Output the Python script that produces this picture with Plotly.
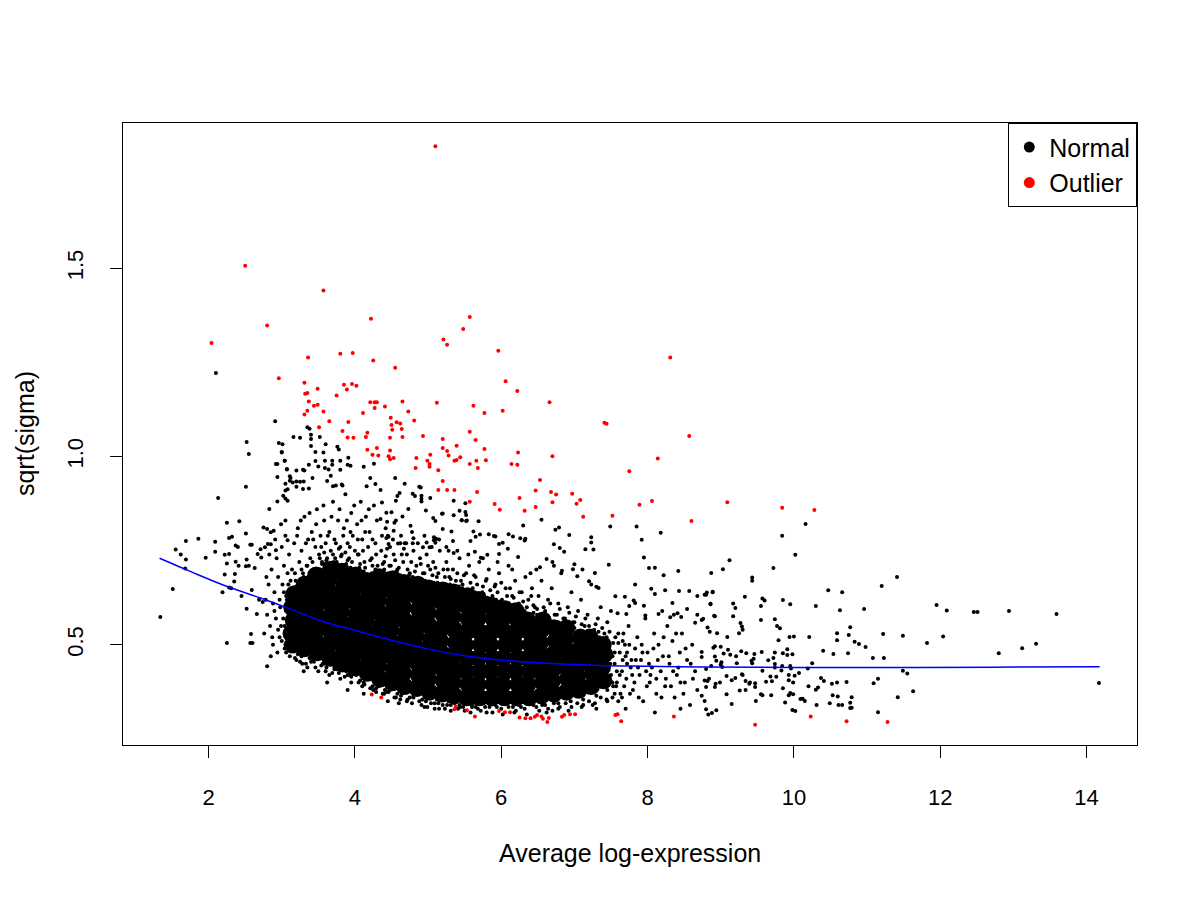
import plotly.graph_objects as go

# red outliers
outlier_x = [5.10, 2.50, 3.57, 2.80, 2.04, 4.22, 5.57, 5.48, 5.21, 5.26, 5.96, 3.36, 3.80, 3.97, 4.25, 4.55,
             6.06, 2.96, 3.31, 3.49, 3.32, 3.35, 3.85, 3.96, 4.02, 3.89, 3.75, 3.37, 3.49, 3.44, 3.35, 3.31,
             3.57, 4.21, 4.27, 4.30, 4.27, 4.41, 4.65, 4.11, 4.73, 5.12, 5.62, 5.77, 6.02, 3.65, 3.51, 3.91,
             3.83, 3.90, 3.98, 4.15, 4.17, 4.49, 4.50, 4.57, 4.62, 4.51, 4.64, 4.81, 4.48, 4.65, 4.93, 5.57,
             5.65, 5.20, 5.20, 5.26, 5.39, 5.77, 4.17, 4.30, 4.24, 4.32, 4.48, 4.46, 4.48, 4.53, 4.84, 5.03,
             4.99, 5.02, 5.02, 4.83, 5.14, 5.28, 5.36, 5.39, 5.44, 5.57, 5.66, 5.68, 5.79, 5.20, 5.14, 5.26,
             5.36, 8.31, 6.22, 6.66, 7.41, 7.44, 8.57, 6.70, 6.23, 6.14, 6.22, 8.14, 7.75, 6.53, 6.47, 6.68,
             6.75, 6.97, 7.08, 7.03, 6.70, 6.25, 5.67, 5.57, 5.91, 5.98, 6.32, 6.47, 7.12, 7.52, 7.89, 8.06,
             8.60, 9.09, 9.84, 10.28,
             9.47, 10.23, 10.72, 11.28, 4.23, 4.36, 5.36, 5.38, 5.53, 5.64, 5.97, 6.05, 6.12, 6.25, 6.33,
             6.40, 6.46, 6.49, 6.55, 6.57, 6.63, 6.65, 6.83, 6.86, 6.94, 7.01, 7.56, 7.59, 7.64, 8.36]
outlier_y = [1.824, 1.507, 1.441, 1.348, 1.302, 1.366, 1.371, 1.339, 1.311, 1.297, 1.281, 1.263, 1.273, 1.275,
             1.255, 1.236, 1.200, 1.208, 1.196, 1.180, 1.167, 1.169, 1.191, 1.193, 1.188, 1.178, 1.162, 1.146,
             1.138, 1.135, 1.122, 1.112, 1.120, 1.144, 1.144, 1.144, 1.129, 1.133, 1.146, 1.116, 1.120, 1.143,
             1.135, 1.116, 1.122, 1.094, 1.078, 1.092, 1.068, 1.051, 1.050, 1.052, 1.063, 1.103, 1.084, 1.091,
             1.088, 1.071, 1.073, 1.096, 1.050, 1.052, 1.055, 1.066, 1.044, 1.047, 1.023, 1.015, 1.029, 1.020,
             1.018, 1.023, 1.005, 1.003, 1.016, 1.001, 0.993, 0.996, 0.996, 1.005, 0.989, 0.980, 0.973, 0.970,
             0.964, 1.003, 0.989, 0.991, 0.998, 0.980, 0.989, 0.970, 0.990, 0.935, 0.911, 0.911, 0.911, 1.263,
             1.174, 1.144, 1.090, 1.087, 1.055, 1.001, 1.011, 0.980, 0.978, 0.995, 0.961, 0.938, 0.910, 0.906,
             0.899, 0.901, 0.885, 0.875, 0.879, 0.890, 0.906, 0.880, 0.874, 0.859, 0.856, 0.866, 0.840, 0.843,
             0.872, 0.882, 0.829, 0.879, 0.864, 0.858,
             0.288, 0.310, 0.297, 0.295, 0.368, 0.360, 0.329, 0.336, 0.326, 0.310, 0.324, 0.321, 0.321, 0.307,
             0.305, 0.305, 0.309, 0.314, 0.310, 0.304, 0.295, 0.306, 0.309, 0.314, 0.316, 0.316, 0.314, 0.316,
             0.297, 0.310]

# solid centre of the black cloud (drawn with big markers)
core_x = [3.15, 3.13, 3.16, 3.14, 3.17,
          3.31, 3.33, 3.30, 3.34, 3.32, 3.31,
          3.49, 3.47, 3.50, 3.48, 3.51, 3.49, 3.47,
          3.66, 3.64, 3.67, 3.65, 3.68, 3.66, 3.64, 3.67,
          3.83, 3.85, 3.82, 3.84, 3.81, 3.83, 3.85, 3.82,
          4.00, 3.98, 4.01, 3.99, 4.02, 4.00, 3.98, 4.01,
          4.17, 4.19, 4.16, 4.18, 4.15, 4.17, 4.19, 4.16,
          4.34, 4.32, 4.35, 4.33, 4.36, 4.34, 4.32, 4.35, 4.33,
          4.51, 4.53, 4.50, 4.52, 4.49, 4.51, 4.53, 4.50, 4.52,
          4.68, 4.66, 4.69, 4.67, 4.70, 4.68, 4.66, 4.69, 4.67,
          4.85, 4.87, 4.84, 4.86, 4.83, 4.85, 4.87, 4.84, 4.86,
          5.02, 5.00, 5.03, 5.01, 5.04, 5.02, 5.00, 5.03, 5.01,
          5.19, 5.21, 5.18, 5.20, 5.17, 5.19, 5.21, 5.18, 5.20,
          5.36, 5.34, 5.37, 5.35, 5.38, 5.36, 5.34, 5.37, 5.35,
          5.53, 5.55, 5.52, 5.54, 5.51, 5.53, 5.55, 5.52, 5.54,
          5.70, 5.68, 5.71, 5.69, 5.72, 5.70, 5.68, 5.71, 5.69,
          5.87, 5.89, 5.86, 5.88, 5.85, 5.87, 5.89, 5.86,
          6.04, 6.02, 6.05, 6.03, 6.06, 6.04, 6.02, 6.05,
          6.21, 6.23, 6.20, 6.22, 6.19, 6.21, 6.23, 6.20,
          6.38, 6.36, 6.39, 6.37, 6.40, 6.38, 6.36,
          6.55, 6.57, 6.54, 6.56, 6.53, 6.55, 6.57,
          6.72, 6.70, 6.73, 6.71, 6.74, 6.72,
          6.89, 6.91, 6.88, 6.90, 6.87, 6.89,
          7.06, 7.04, 7.07, 7.05, 7.08,
          7.23, 7.25, 7.22, 7.24, 7.21,
          7.40, 7.38, 7.41, 7.39]
core_y = [0.50, 0.53, 0.565, 0.60, 0.635,
          0.49, 0.52, 0.555, 0.59, 0.625, 0.66,
          0.48, 0.51, 0.545, 0.58, 0.615, 0.65, 0.685,
          0.465, 0.50, 0.535, 0.57, 0.605, 0.64, 0.675, 0.70,
          0.45, 0.485, 0.52, 0.555, 0.59, 0.625, 0.66, 0.695,
          0.44, 0.475, 0.51, 0.545, 0.58, 0.615, 0.65, 0.685,
          0.425, 0.46, 0.495, 0.53, 0.565, 0.60, 0.635, 0.67,
          0.41, 0.445, 0.48, 0.515, 0.55, 0.585, 0.62, 0.655, 0.68,
          0.40, 0.435, 0.47, 0.505, 0.54, 0.575, 0.61, 0.645, 0.675,
          0.39, 0.425, 0.46, 0.495, 0.53, 0.565, 0.60, 0.635, 0.665,
          0.385, 0.42, 0.455, 0.49, 0.525, 0.56, 0.595, 0.63, 0.66,
          0.375, 0.41, 0.445, 0.48, 0.515, 0.55, 0.585, 0.62, 0.65,
          0.37, 0.405, 0.44, 0.475, 0.51, 0.545, 0.58, 0.615, 0.645,
          0.365, 0.40, 0.435, 0.47, 0.505, 0.54, 0.575, 0.61, 0.64,
          0.36, 0.395, 0.43, 0.465, 0.50, 0.535, 0.57, 0.605, 0.63,
          0.36, 0.395, 0.43, 0.465, 0.50, 0.535, 0.57, 0.60, 0.62,
          0.36, 0.395, 0.43, 0.465, 0.50, 0.535, 0.57, 0.605,
          0.36, 0.395, 0.43, 0.465, 0.50, 0.535, 0.57, 0.595,
          0.36, 0.395, 0.43, 0.465, 0.50, 0.535, 0.565, 0.59,
          0.36, 0.395, 0.43, 0.465, 0.50, 0.535, 0.565,
          0.365, 0.40, 0.435, 0.47, 0.505, 0.54, 0.565,
          0.37, 0.405, 0.44, 0.475, 0.51, 0.545,
          0.375, 0.41, 0.445, 0.48, 0.515, 0.545,
          0.38, 0.415, 0.45, 0.485, 0.52,
          0.39, 0.425, 0.46, 0.495, 0.52,
          0.405, 0.44, 0.475, 0.50]

# points sitting on the rim of the solid part
rim_x = [3.10, 3.20, 3.26, 3.36, 3.42, 3.53, 3.59, 3.71, 3.76, 3.88, 3.94, 4.06, 4.12, 4.23, 4.28, 4.40,
         4.45, 4.57, 4.62, 4.74, 4.79, 4.91, 4.96, 5.08, 5.13, 5.25, 5.30, 5.42, 5.47, 5.59, 5.64, 5.76,
         5.81, 5.93, 5.98, 6.10, 6.15, 6.27, 6.32, 6.44, 6.49, 6.61, 6.66, 6.78, 6.83, 6.95, 7.00, 7.12,
         7.17, 7.29, 7.34, 7.46,
         3.10, 3.22, 3.27, 3.38, 3.44, 3.56, 3.61, 3.72, 3.78, 3.90, 3.95, 4.07, 4.12, 4.24, 4.29, 4.41,
         4.46, 4.58, 4.63, 4.75, 4.80, 4.92, 4.97, 5.09, 5.14, 5.26, 5.31, 5.43, 5.48, 5.60, 5.65, 5.78,
         5.94, 6.10, 6.27, 6.44, 6.60, 6.78, 6.95, 7.12, 7.30, 7.45,
         3.05, 3.04, 3.06, 3.07]
rim_y = [0.645, 0.655, 0.675, 0.68, 0.695, 0.70, 0.715, 0.72, 0.715, 0.715, 0.705, 0.705, 0.695, 0.69, 0.70,
         0.70, 0.69, 0.695, 0.685, 0.685, 0.68, 0.675, 0.67, 0.665, 0.665, 0.66, 0.66, 0.655, 0.65, 0.645, 0.64,
         0.635, 0.625, 0.62, 0.615, 0.61, 0.605, 0.60, 0.59, 0.585, 0.58, 0.575, 0.565, 0.56, 0.555, 0.55,
         0.545, 0.535, 0.535, 0.525, 0.52, 0.50,
         0.485, 0.475, 0.47, 0.465, 0.455, 0.45, 0.44, 0.435, 0.425, 0.42, 0.415, 0.405, 0.40, 0.39, 0.385,
         0.38, 0.375, 0.37, 0.365, 0.36, 0.36, 0.355, 0.35, 0.345, 0.345, 0.34, 0.34, 0.34, 0.335, 0.335,
         0.335, 0.335, 0.335, 0.335, 0.335, 0.34, 0.34, 0.345, 0.35, 0.355, 0.365, 0.38,
         0.50, 0.55, 0.59, 0.62]

# band hugging the centre (dense speckle round the solid part)
halo_x = [3.12, 3.18, 3.22, 3.27, 3.30, 3.35, 3.38, 3.42, 3.45, 3.52, 3.55, 3.58, 3.61, 3.70, 3.73, 3.78,
          3.81, 3.87, 3.90, 3.93, 3.96, 4.04, 4.07, 4.11, 4.14, 4.21, 4.24, 4.29, 4.38, 4.42, 4.47, 4.55,
          4.60, 4.64, 4.72, 4.77, 4.82, 4.90, 4.95, 5.00, 5.06, 5.10, 5.14, 5.23, 5.27, 5.31, 5.40, 5.45,
          5.49, 5.58, 5.63, 5.67, 5.75, 5.80, 5.85, 5.91, 5.95, 6.00, 6.08, 6.12, 6.17, 6.25, 6.30, 6.35,
          6.41, 6.44, 6.49, 6.58, 6.62, 6.67, 6.76, 6.80, 6.85, 6.93, 6.98, 7.02, 7.10, 7.15, 7.20, 7.29,
          7.33, 7.38, 7.44, 7.48, 7.53, 7.56,
          3.18, 3.25, 3.33, 3.40, 3.46, 3.54, 3.60, 3.69, 3.75, 3.86, 3.92, 4.05, 4.13, 4.21, 4.29, 4.38,
          4.44, 4.54, 4.62, 4.71, 4.78, 4.91, 4.99, 5.09, 5.23, 5.31, 5.41, 5.58, 5.72, 5.88, 6.02, 6.18,
          6.35, 6.52, 6.62, 6.78, 6.92, 7.10, 7.25, 7.45, 7.55, 7.65,
          2.88, 2.95, 3.00, 3.02, 3.05, 3.08, 3.03, 2.97, 3.09, 2.90, 2.85, 3.06,
          7.50, 7.55, 7.58, 7.62, 7.65, 7.68, 7.72, 7.75, 7.79, 7.84, 7.60, 7.70, 7.48, 7.53, 7.66, 7.76,
          7.87, 7.93, 7.99, 8.04, 8.14, 8.25, 8.35, 8.45,
          3.21, 3.26, 3.33, 3.38, 3.43, 3.47, 3.54, 3.57, 3.63, 3.68, 3.74, 3.79, 3.84, 3.89, 3.94, 3.99,
          4.04, 4.09, 4.14, 4.19, 4.24, 4.30, 4.37, 4.42, 4.48, 4.52, 4.63, 4.70, 4.78, 4.86, 4.95, 5.05,
          5.15, 5.25, 5.40, 5.55, 5.75, 5.95, 6.15, 6.40]
halo_y = [0.67, 0.69, 0.665, 0.70, 0.68, 0.71, 0.69, 0.72, 0.70, 0.73, 0.715, 0.745, 0.725, 0.74, 0.73, 0.755,
          0.735, 0.745, 0.725, 0.76, 0.72, 0.74, 0.715, 0.75, 0.705, 0.725, 0.71, 0.74, 0.715, 0.735, 0.71, 0.725,
          0.705, 0.74, 0.70, 0.72, 0.695, 0.715, 0.69, 0.71, 0.685, 0.705, 0.69, 0.68, 0.70, 0.675, 0.69, 0.67,
          0.685, 0.665, 0.685, 0.66, 0.655, 0.675, 0.645, 0.655, 0.64, 0.665, 0.63, 0.65, 0.625, 0.64, 0.615, 0.60,
          0.63, 0.605, 0.595, 0.60, 0.58, 0.61, 0.58, 0.595, 0.57, 0.585, 0.56, 0.575, 0.555, 0.57, 0.55, 0.555,
          0.535, 0.545, 0.52, 0.535, 0.505, 0.52,
          0.465, 0.455, 0.45, 0.455, 0.44, 0.445, 0.43, 0.425, 0.435, 0.415, 0.42, 0.40, 0.395, 0.385, 0.375, 0.37,
          0.375, 0.36, 0.355, 0.35, 0.345, 0.34, 0.335, 0.33, 0.33, 0.325, 0.33, 0.32, 0.325, 0.32, 0.315, 0.32,
          0.315, 0.325, 0.32, 0.33, 0.325, 0.335, 0.34, 0.35, 0.37, 0.36,
          0.50, 0.54, 0.51, 0.57, 0.53, 0.60, 0.64, 0.62, 0.66, 0.59, 0.47, 0.48,
          0.42, 0.45, 0.40, 0.48, 0.43, 0.39, 0.45, 0.50, 0.42, 0.46, 0.505, 0.47, 0.48, 0.39, 0.51, 0.37,
          0.44, 0.48, 0.39, 0.42, 0.46, 0.41, 0.43, 0.40,
          0.79, 0.83, 0.77, 0.85, 0.78, 0.82, 0.76, 0.87, 0.79, 0.84, 0.77, 0.86, 0.79, 0.83, 0.80, 0.87,
          0.78, 0.83, 0.80, 0.86, 0.78, 0.83, 0.79, 0.81, 0.76, 0.78, 0.79, 0.77, 0.80, 0.77, 0.79, 0.76,
          0.78, 0.76, 0.75, 0.74, 0.73, 0.72, 0.70, 0.69]

# edge of the cloud, medium density
edge_x = [2.78, 2.80, 2.82, 2.84, 2.86, 2.88, 2.90, 2.92, 2.93, 2.95, 2.97, 2.98, 3.00, 3.01, 3.03, 3.04,
          3.06, 3.08, 3.10, 3.11, 2.76, 2.79, 2.83, 2.87, 2.91, 2.94, 2.99, 3.05,
          3.14, 3.17, 3.19, 3.22, 3.24, 3.27, 3.29, 3.31, 3.34, 3.36, 3.39, 3.41, 3.44, 3.46, 3.48, 3.51,
          3.53, 3.55, 3.58, 3.60,
          3.62, 3.65, 3.67, 3.70, 3.72, 3.75, 3.77, 3.80, 3.82, 3.85, 3.87, 3.90, 3.92, 3.95, 3.97, 4.00,
          4.03, 4.05, 4.08, 4.10, 4.13, 4.15, 4.18, 4.20, 4.23, 4.26, 4.28, 4.31,
          4.36, 4.40, 4.45, 4.49, 4.53, 4.58, 4.62, 4.66, 4.71, 4.75, 4.80, 4.84, 4.89, 4.93, 4.98, 5.03,
          5.07, 5.12, 5.16, 5.21,
          5.25, 5.29, 5.34, 5.38, 5.43, 5.47, 5.52, 5.56, 5.61, 5.65, 5.70, 5.74, 5.79, 5.83, 5.88, 5.92,
          5.97, 6.01, 6.06, 6.10, 6.15, 6.19, 6.24, 6.28,
          6.33, 6.37, 6.42, 6.46, 6.51, 6.55, 6.60, 6.64, 6.69, 6.73, 6.78, 6.82, 6.87, 6.91, 6.96, 7.00,
          7.05, 7.09, 7.14, 7.18, 7.23, 7.27, 7.32, 7.36, 7.41, 7.45, 7.50,
          7.46, 7.49, 7.52, 7.55, 7.58, 7.60, 7.63, 7.66, 7.69, 7.71, 7.74, 7.77, 7.80, 7.83, 7.86, 7.89,
          7.91, 7.94, 7.97, 8.00, 8.03, 8.06, 8.09, 8.12, 8.15, 8.18, 8.21, 8.24, 8.27, 8.30, 8.34, 8.37,
          8.40, 8.44, 8.47, 8.51, 8.54, 8.58, 8.61, 8.65, 8.68, 7.52, 7.62, 7.72, 7.82, 7.92, 8.02, 8.12,
          8.22, 8.32, 8.42, 8.52, 8.62, 7.57, 7.67, 7.78, 7.88, 7.98, 8.08, 8.19, 8.29, 8.39, 8.49, 8.59,
          3.20, 3.28, 3.35, 3.42, 3.50, 3.58, 3.65, 3.72, 3.80, 3.88, 3.95, 4.02, 4.10, 4.18, 4.25, 4.33,
          4.40, 4.48, 4.56, 4.64, 4.72, 4.80, 4.88, 4.96, 5.04, 5.12, 5.20, 5.28, 5.36, 5.44, 5.52, 5.60,
          5.68, 5.76, 5.84, 5.92, 6.00, 6.08, 6.16, 6.24, 6.32, 6.40, 6.48, 6.56, 6.64, 6.72, 6.80, 6.88,
          6.96, 7.04, 7.12, 7.20, 7.28, 7.36, 7.44, 7.52, 7.60,
          3.30, 3.62, 3.90, 4.12, 4.45, 4.60, 4.95, 5.15, 5.50, 5.80, 6.20, 6.70, 7.30, 7.70, 8.10, 8.45]
edge_y = [0.62, 0.58, 0.66, 0.55, 0.70, 0.61, 0.64, 0.57, 0.73, 0.68, 0.52, 0.60, 0.76, 0.66, 0.71, 0.49,
          0.63, 0.69, 0.74, 0.47, 0.53, 0.68, 0.74, 0.52, 0.78, 0.48, 0.55, 0.79,
          0.70, 0.77, 0.67, 0.81, 0.72, 0.75, 0.69, 0.84, 0.71, 0.78, 0.73, 0.80, 0.70, 0.76, 0.86, 0.74,
          0.79, 0.72, 0.83, 0.77,
          0.73, 0.80, 0.75, 0.88, 0.78, 0.72, 0.83, 0.76, 0.74, 0.81, 0.90, 0.77, 0.73, 0.85, 0.79, 0.75,
          0.82, 0.74, 0.88, 0.78, 0.72, 0.84, 0.76, 0.80, 0.73, 0.87, 0.77, 0.71,
          0.75, 0.72, 0.79, 0.71, 0.74, 0.70, 0.77, 0.72, 0.74, 0.69, 0.75, 0.71, 0.73, 0.69, 0.74, 0.70,
          0.72, 0.68, 0.75, 0.70,
          0.72, 0.68, 0.70, 0.67, 0.73, 0.66, 0.69, 0.71, 0.65, 0.68, 0.72, 0.64, 0.67, 0.70, 0.63, 0.66,
          0.69, 0.62, 0.65, 0.71, 0.63, 0.67, 0.61, 0.64,
          0.68, 0.62, 0.65, 0.60, 0.63, 0.67, 0.59, 0.62, 0.65, 0.58, 0.61, 0.69, 0.57, 0.60, 0.64, 0.56,
          0.59, 0.62, 0.55, 0.58, 0.66, 0.54, 0.57, 0.60, 0.53, 0.56, 0.59,
          0.51, 0.45, 0.40, 0.48, 0.43, 0.53, 0.37, 0.46, 0.50, 0.41, 0.55, 0.44, 0.38, 0.49, 0.52, 0.42,
          0.46, 0.35, 0.57, 0.48, 0.40, 0.44, 0.53, 0.37, 0.50, 0.43, 0.47, 0.39, 0.55, 0.45, 0.51, 0.36,
          0.42, 0.48, 0.53, 0.40, 0.46, 0.34, 0.50, 0.43, 0.38, 0.47, 0.42, 0.48, 0.40, 0.50, 0.45, 0.41,
          0.52, 0.39, 0.44, 0.49, 0.41, 0.39, 0.53, 0.46, 0.36, 0.43, 0.49, 0.36, 0.47, 0.53, 0.37, 0.45,
          0.46, 0.45, 0.44, 0.46, 0.43, 0.45, 0.42, 0.44, 0.41, 0.43, 0.40, 0.42, 0.39, 0.41, 0.38, 0.39,
          0.37, 0.38, 0.36, 0.37, 0.355, 0.365, 0.35, 0.36, 0.345, 0.355, 0.34, 0.35, 0.345, 0.335, 0.345, 0.34,
          0.33, 0.345, 0.335, 0.34, 0.33, 0.345, 0.335, 0.34, 0.33, 0.345, 0.335, 0.34, 0.33, 0.345, 0.335, 0.345,
          0.335, 0.345, 0.34, 0.35, 0.345, 0.36, 0.355, 0.36, 0.35,
          0.43, 0.40, 0.38, 0.37, 0.35, 0.345, 0.335, 0.33, 0.325, 0.32, 0.325, 0.325, 0.33, 0.33, 0.32, 0.33]

# scattered black points (upper area, left side and right tail)
sparse_x = [2.10, 2.91, 2.52, 2.55, 2.51, 3.35, 3.38, 3.16, 3.25, 3.40, 3.40, 3.52, 2.96, 3.01, 3.00, 3.40,
            3.60, 3.46, 3.57, 3.76, 3.78, 3.04, 2.92, 3.07, 2.94, 3.20, 3.29, 3.31, 3.11, 3.12, 3.37, 3.50,
            3.59, 3.59, 3.46, 3.69, 3.80, 3.69, 3.64, 3.67, 3.62, 3.91, 3.90, 3.94, 4.12, 4.26, 4.21, 4.28,
            4.16, 3.80, 3.42, 3.30, 3.25, 3.20, 3.15, 3.11, 3.05, 3.08, 3.20, 3.29, 3.37, 3.82, 3.83, 3.70,
            3.74,
            2.13, 2.25, 2.42, 2.51, 1.86, 1.69, 1.55, 1.62, 1.69, 1.96, 2.09, 2.09, 2.28, 2.32, 2.37, 2.40,
            2.22, 2.28, 2.25, 2.37, 2.41, 2.22, 2.36, 2.35, 2.28, 2.31, 2.19, 2.45, 2.51, 2.55, 2.52, 2.57,
            2.59, 2.67, 2.71, 2.63, 1.68, 1.51, 1.34, 2.25, 2.58, 2.60, 2.57, 2.80, 2.52, 2.66, 2.69, 2.74,
            2.59, 2.72, 2.77, 2.81, 2.75, 2.80, 2.83, 2.94, 3.00, 3.04, 3.07, 3.05, 3.08, 3.02, 3.05, 2.94,
            2.99, 3.05, 2.89, 2.85, 2.85, 2.92, 3.08,
            4.55, 4.68, 4.88, 4.90, 4.79, 4.82, 4.91, 4.61, 4.58, 4.56, 4.35, 4.37, 5.03, 4.91, 4.91, 5.35,
            5.43, 5.51, 5.20, 4.97, 5.07, 5.10, 4.73, 4.65, 4.56, 4.54, 4.43, 4.50, 4.35, 4.44, 5.52, 5.46,
            5.52, 5.69, 5.20, 4.76, 4.53, 4.46, 4.43, 5.32, 5.62, 5.92, 6.10, 6.16, 6.30, 6.55, 6.74, 6.79,
            6.93, 7.49, 7.85, 8.18, 6.26, 6.32, 6.33, 6.02, 5.97, 5.58, 5.34, 5.10, 5.08, 5.10, 4.98, 4.80,
            4.79, 4.68, 4.59, 4.67, 4.46, 4.44, 4.93, 5.02, 5.28, 5.35, 5.64, 5.72, 5.81, 5.97, 6.09, 6.23,
            6.72, 6.80, 6.86, 6.62, 6.70, 6.72, 7.15, 7.26, 7.23, 7.23, 7.92, 7.95, 7.47, 8.02, 8.10, 8.42,
            8.22, 7.28, 6.98, 7.00, 7.11, 6.83, 7.04, 7.20, 7.30, 7.33, 6.48, 6.53, 7.83, 8.05, 8.10, 8.24,
            8.43, 8.57, 8.68, 8.80, 8.89, 8.34, 8.86, 8.54, 8.20, 8.15, 7.97, 7.56, 7.69, 7.81, 7.83, 7.95,
            7.75, 7.71, 7.59, 8.31, 8.36, 8.41, 8.46, 8.68, 8.65, 8.74, 8.91, 5.51, 5.19, 5.35, 5.53, 5.46,
            5.08, 5.11, 5.65, 5.71, 5.83, 5.90,
            10.16, 9.84, 10.02, 9.72, 9.12, 9.03, 8.87, 9.43, 9.43, 11.41, 11.20, 9.33, 9.57, 9.60, 9.85, 9.95,
            10.47, 10.66, 10.30, 10.63, 10.96, 8.81, 8.89, 8.78, 8.86, 9.17, 9.20, 9.55, 9.17, 8.92, 9.55, 9.74,
            8.76, 9.27, 9.29, 9.30, 9.77, 9.81, 8.82, 8.85, 8.95, 9.25, 9.09, 9.94, 10.00, 10.21, 9.79, 10.59,
            10.77, 10.75, 10.59, 10.83, 10.89, 10.98, 10.40, 10.54, 10.74, 11.08, 11.23, 11.22, 11.42, 11.15,
            11.09, 11.15, 10.79, 10.77, 10.66, 10.61, 10.77, 10.79, 10.49, 10.31, 10.53, 10.60, 10.72, 10.59,
            10.52, 10.41, 10.37, 10.33, 10.30, 10.20, 10.25, 10.19, 10.07, 10.01, 9.93, 9.93, 9.99, 9.95, 9.99,
            9.93, 9.88, 10.09, 10.12, 10.15, 9.98, 10.02, 9.85, 9.83, 9.84, 9.95, 9.96, 9.85, 9.91, 9.98, 9.91,
            9.74, 9.72, 9.65, 9.74, 9.74, 9.68, 9.62, 9.70, 9.76, 9.69, 9.55, 9.57, 9.48, 9.56, 9.57, 9.46,
            9.45, 9.42, 9.43, 9.47, 9.47, 9.40, 9.39, 9.34, 9.34, 9.26, 9.29, 9.30, 9.35, 9.28, 9.21, 9.22,
            9.20, 9.15, 9.08, 9.15, 9.08, 9.02, 9.01, 9.00, 9.13, 9.10, 9.04, 8.92, 8.90, 9.00, 8.94, 8.92,
            8.87, 8.74, 8.74, 8.80, 8.82, 8.84, 8.78, 8.80, 8.92, 8.93, 8.99, 8.74, 8.78, 8.80, 8.83, 8.88,
            8.94,
            11.95, 12.09, 12.46, 12.51, 12.94, 13.59, 11.49, 11.82, 12.04, 12.80, 13.12, 13.31, 11.49, 11.55,
            11.63, 14.17]
sparse_y = [1.222, 1.094, 1.039, 1.007, 0.920, 1.078, 1.074, 1.052, 1.050, 1.058, 1.047, 1.052, 1.036, 1.033,
            1.012, 1.028, 1.033, 1.012, 1.011, 1.026, 1.019, 0.989, 0.980, 0.967, 0.946, 0.963, 0.965, 0.963,
            0.948, 0.943, 0.978, 0.974, 0.989, 0.970, 0.988, 0.989, 0.989, 0.978, 0.966, 0.949, 0.935, 0.997,
            0.978, 0.976, 0.973, 0.981, 0.943, 0.927, 0.921, 0.965, 0.943, 0.934, 0.933, 0.934, 0.931, 0.936,
            0.928, 0.913, 0.920, 0.914, 0.915, 0.926, 0.923, 0.921, 0.923,
            0.890, 0.824, 0.828, 0.796, 0.782, 0.776, 0.753, 0.740, 0.727, 0.731, 0.774, 0.747, 0.784, 0.787,
            0.764, 0.760, 0.739, 0.741, 0.716, 0.721, 0.710, 0.687, 0.688, 0.668, 0.652, 0.650, 0.640, 0.630,
            0.709, 0.710, 0.727, 0.766, 0.766, 0.741, 0.754, 0.704, 0.703, 0.648, 0.574, 0.505, 0.529, 0.505,
            0.505, 0.443, 0.596, 0.582, 0.620, 0.614, 0.646, 0.732, 0.759, 0.768, 0.812, 0.808, 0.861, 0.980,
            1.011, 0.989, 0.966, 0.910, 0.883, 0.896, 0.889, 0.881, 0.820, 0.830, 0.803, 0.799, 0.767, 0.751,
            0.778,
            0.943, 0.928, 0.920, 0.918, 0.901, 0.895, 0.896, 0.903, 0.895, 0.883, 0.911, 0.878, 0.890, 0.888,
            0.881, 0.883, 0.856, 0.853, 0.849, 0.857, 0.837, 0.829, 0.861, 0.841, 0.830, 0.824, 0.851, 0.852,
            0.834, 0.827, 0.845, 0.831, 0.829, 0.828, 0.808, 0.816, 0.803, 0.787, 0.784, 0.801, 0.801, 0.788,
            0.794, 0.788, 0.817, 0.832, 0.806, 0.812, 0.792, 0.814, 0.814, 0.798, 0.783, 0.777, 0.782, 0.771,
            0.768, 0.776, 0.776, 0.782, 0.778, 0.771, 0.772, 0.783, 0.770, 0.770, 0.769, 0.755, 0.768, 0.755,
            0.759, 0.759, 0.750, 0.744, 0.747, 0.731, 0.739, 0.741, 0.755, 0.733, 0.767, 0.757, 0.747, 0.728,
            0.720, 0.710, 0.754, 0.753, 0.772, 0.786, 0.779, 0.732, 0.713, 0.704, 0.705, 0.696, 0.685, 0.691,
            0.701, 0.714, 0.700, 0.697, 0.682, 0.669, 0.654, 0.651, 0.700, 0.706, 0.660, 0.649, 0.635, 0.645,
            0.643, 0.643, 0.630, 0.633, 0.641, 0.611, 0.609, 0.595, 0.590, 0.582, 0.578, 0.629, 0.628, 0.618,
            0.611, 0.604, 0.603, 0.582, 0.584, 0.573, 0.580, 0.584, 0.574, 0.580, 0.559, 0.566, 0.577, 0.876,
            0.848, 0.844, 0.830, 0.831, 0.786, 0.782, 0.787, 0.793, 0.794, 0.789,
            0.821, 0.790, 0.739, 0.704, 0.725, 0.701, 0.691, 0.679, 0.670, 0.680, 0.656, 0.628, 0.623, 0.618,
            0.619, 0.608, 0.645, 0.640, 0.603, 0.592, 0.595, 0.639, 0.640, 0.633, 0.608, 0.610, 0.598, 0.603,
            0.576, 0.576, 0.566, 0.568, 0.569, 0.558, 0.549, 0.540, 0.550, 0.544, 0.546, 0.535, 0.531, 0.531,
            0.521, 0.521, 0.522, 0.521, 0.512, 0.531, 0.547, 0.526, 0.512, 0.508, 0.502, 0.494, 0.484, 0.476,
            0.478, 0.465, 0.465, 0.529, 0.361, 0.410, 0.398, 0.321, 0.361, 0.346, 0.340, 0.340, 0.332, 0.333,
            0.345, 0.340, 0.366, 0.363, 0.401, 0.400, 0.397, 0.404, 0.412, 0.387, 0.381, 0.390, 0.451, 0.437,
            0.425, 0.418, 0.420, 0.406, 0.400, 0.372, 0.369, 0.366, 0.347, 0.356, 0.357, 0.351, 0.327, 0.324,
            0.385, 0.432, 0.444, 0.444, 0.437, 0.478, 0.473, 0.475, 0.488, 0.480, 0.465, 0.459, 0.449, 0.440,
            0.416, 0.402, 0.403, 0.415, 0.366, 0.369, 0.366, 0.351, 0.481, 0.431, 0.476, 0.463, 0.458, 0.451,
            0.398, 0.388, 0.400, 0.397, 0.404, 0.380, 0.379, 0.422, 0.420, 0.478, 0.483, 0.470, 0.451, 0.412,
            0.406, 0.417, 0.343, 0.369, 0.441, 0.454, 0.448, 0.474, 0.487, 0.477, 0.496, 0.492, 0.495, 0.458,
            0.469, 0.444, 0.481, 0.468, 0.436, 0.404, 0.410, 0.405, 0.388, 0.388, 0.397, 0.400, 0.365, 0.351,
            0.329, 0.315, 0.319, 0.326,
            0.606, 0.591, 0.587, 0.587, 0.590, 0.582, 0.524, 0.505, 0.522, 0.478, 0.491, 0.503, 0.431, 0.424,
            0.377, 0.399]

# fitted trend (blue line)
trend_x = [1.33, 1.75, 2.2, 2.7, 3.12, 3.53, 4.03, 4.5, 5.07, 5.5, 6.0, 6.44, 7.0, 7.35, 8.0, 8.72,
           10.0, 11.72, 13.0, 14.18]
trend_y = [0.730, 0.695, 0.659, 0.625, 0.595, 0.564, 0.537, 0.512, 0.486, 0.471, 0.459, 0.453, 0.448,
           0.445, 0.443, 0.441, 0.440, 0.440, 0.441, 0.442]

x_ticks = [2, 4, 6, 8, 10, 12, 14]
y_ticks = [0.5, 1.0, 1.5]

font = "Liberation Sans, Arial, sans-serif"
dot = 4

fig = go.Figure()
fig.add_trace(go.Scatter(x=core_x, y=core_y, mode="markers", showlegend=False, hoverinfo="skip",
                         marker=dict(color="black", size=17.5, symbol="circle", line=dict(width=0))))
fig.add_trace(go.Scatter(x=rim_x + halo_x + edge_x + sparse_x, y=rim_y + halo_y + edge_y + sparse_y,
                         mode="markers", showlegend=False,
                         marker=dict(color="black", size=dot, line=dict(width=0))))
fig.add_trace(go.Scatter(x=outlier_x, y=outlier_y, mode="markers", showlegend=False,
                         marker=dict(color="#FF0000", size=dot, line=dict(width=0))))
fig.add_trace(go.Scatter(x=trend_x, y=trend_y, mode="lines", showlegend=False, line_shape="spline",
                         line=dict(color="#0000FF", width=1.5)))
# legend entries
fig.add_trace(go.Scatter(x=[None], y=[None], mode="markers", name="Normal",
                         marker=dict(color="black", size=11)))
fig.add_trace(go.Scatter(x=[None], y=[None], mode="markers", name="Outlier",
                         marker=dict(color="#FF0000", size=11)))

axis_common = dict(showgrid=False, zeroline=False, showline=True, mirror=True, linecolor="black",
                   linewidth=1.3, ticks="outside", ticklen=12, tickwidth=1.2, tickcolor="black",
                   tickfont=dict(family=font, size=22, color="black"))
fig.update_xaxes(range=[0.83, 14.69], tickvals=x_ticks, ticklabelstandoff=20, **axis_common)
fig.update_yaxes(range=[0.234, 1.886], tickvals=y_ticks, ticktext=["0.5", "1.0", "1.5"],
                 tickangle=-90, ticklabelstandoff=18, **axis_common)

# the page body adds 8px round the figure, so the margins are trimmed by that much
fig.update_layout(
    width=1192, height=892,
    margin=dict(l=115, r=63, t=115, b=155),
    plot_bgcolor="white", paper_bgcolor="white",
    font=dict(family=font, size=25, color="black"),
    legend=dict(x=1, y=1, xanchor="right", yanchor="top", bordercolor="black", borderwidth=1.3,
                bgcolor="white", font=dict(family=font, size=25), itemwidth=30, tracegroupgap=0),
    annotations=[
        dict(text="Average log-expression", xref="paper", yref="paper", x=0.5, y=-0.1736,
             xanchor="center", yanchor="middle", showarrow=False, font=dict(family=font, size=25)),
        dict(text="sqrt(sigma)", xref="paper", yref="paper", x=-0.0966, y=0.5, textangle=-90,
             xanchor="center", yanchor="middle", showarrow=False, font=dict(family=font, size=25)),
    ],
)

fig.write_html("out.html")
